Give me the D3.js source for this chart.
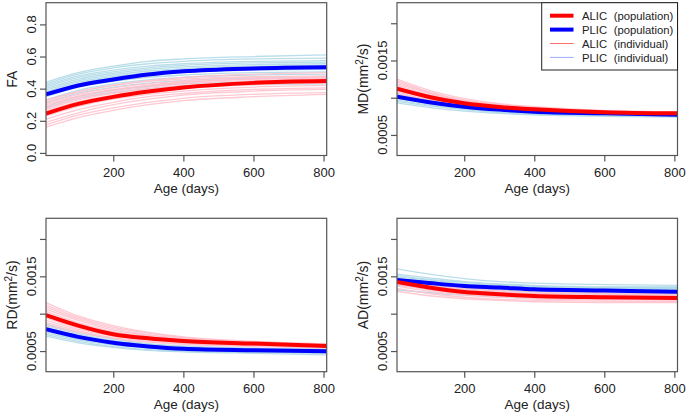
<!DOCTYPE html>
<html>
<head>
<meta charset="utf-8">
<script src="https://cdn.jsdelivr.net/npm/d3@7"></script>
<style>
  body { margin: 0; background: #fff; }
  text { font-family: "Liberation Sans", Arial, Helvetica, sans-serif; fill: #222; }
</style>
</head>
<body>
<svg id="chart" width="690" height="413"></svg>
<script>
var ages = [8, 100, 200, 300, 400, 600, 809];

// FA
var faAlicPop = [0.245, 0.305, 0.349, 0.382, 0.407, 0.436, 0.447];
var faPlicPop = [0.364, 0.420, 0.457, 0.488, 0.508, 0.526, 0.533];
var faAlicInd = [
  [0.33, 0.38, 0.42, 0.445, 0.46, 0.475, 0.48],
  [0.32, 0.38, 0.42, 0.45, 0.47, 0.49, 0.50],
  [0.31, 0.365, 0.405, 0.43, 0.45, 0.47, 0.475],
  [0.30, 0.355, 0.395, 0.42, 0.44, 0.46, 0.465],
  [0.29, 0.35, 0.39, 0.42, 0.44, 0.46, 0.47],
  [0.28, 0.34, 0.38, 0.41, 0.43, 0.45, 0.46],
  [0.27, 0.33, 0.37, 0.40, 0.42, 0.44, 0.45],
  [0.26, 0.32, 0.36, 0.39, 0.41, 0.43, 0.44],
  [0.25, 0.31, 0.35, 0.38, 0.40, 0.425, 0.435],
  [0.23, 0.29, 0.335, 0.365, 0.385, 0.41, 0.42],
  [0.21, 0.27, 0.315, 0.35, 0.37, 0.395, 0.405],
  [0.19, 0.25, 0.30, 0.335, 0.36, 0.385, 0.395],
  [0.175, 0.235, 0.28, 0.315, 0.34, 0.365, 0.375],
  [0.16, 0.22, 0.265, 0.30, 0.325, 0.35, 0.365]
];
var faPlicInd = [
  [0.44, 0.50, 0.54, 0.57, 0.585, 0.60, 0.61],
  [0.43, 0.49, 0.53, 0.555, 0.57, 0.585, 0.59],
  [0.42, 0.48, 0.515, 0.54, 0.555, 0.57, 0.575],
  [0.41, 0.47, 0.505, 0.53, 0.545, 0.56, 0.565],
  [0.40, 0.46, 0.495, 0.52, 0.535, 0.55, 0.555],
  [0.39, 0.45, 0.485, 0.51, 0.525, 0.54, 0.545],
  [0.38, 0.44, 0.475, 0.50, 0.515, 0.53, 0.535],
  [0.36, 0.43, 0.47, 0.495, 0.51, 0.525, 0.53],
  [0.37, 0.425, 0.46, 0.485, 0.50, 0.515, 0.52],
  [0.35, 0.41, 0.445, 0.47, 0.485, 0.50, 0.505],
  [0.33, 0.39, 0.43, 0.455, 0.47, 0.485, 0.49],
  [0.31, 0.37, 0.41, 0.435, 0.45, 0.465, 0.47],
  [0.29, 0.35, 0.39, 0.415, 0.43, 0.44, 0.445],
  [0.28, 0.34, 0.375, 0.40, 0.415, 0.425, 0.43]
];

// MD
var mdAlicPop = [0.00112, 0.00101, 0.000925, 0.000875, 0.000845, 0.000805, 0.00079];
var mdPlicPop = [0.001014, 0.00094, 0.00088, 0.00084, 0.000812, 0.00079, 0.00077];
var mdAlicInd = [
  [0.00125, 0.00110, 0.00099, 0.00092, 0.00088, 0.00083, 0.00081],
  [0.00123, 0.00108, 0.00097, 0.00091, 0.00087, 0.00082, 0.00080],
  [0.00121, 0.00107, 0.00096, 0.00090, 0.00086, 0.00082, 0.00080],
  [0.00119, 0.00106, 0.00095, 0.00089, 0.00086, 0.00081, 0.00079],
  [0.00117, 0.00104, 0.00094, 0.00088, 0.00085, 0.00081, 0.00079],
  [0.00115, 0.00103, 0.00093, 0.00088, 0.00085, 0.00081, 0.00079],
  [0.00113, 0.00101, 0.00092, 0.00087, 0.00084, 0.00080, 0.00078],
  [0.00110, 0.00099, 0.00091, 0.00086, 0.00083, 0.00080, 0.00078],
  [0.00108, 0.00097, 0.00090, 0.00085, 0.00082, 0.00079, 0.00077],
  [0.00106, 0.00096, 0.00089, 0.00085, 0.00082, 0.00079, 0.00077]
];
var mdPlicInd = [
  [0.00105, 0.00097, 0.00090, 0.00086, 0.00083, 0.00080, 0.00079],
  [0.00104, 0.00096, 0.00090, 0.00085, 0.00083, 0.00080, 0.00078],
  [0.00103, 0.00095, 0.00089, 0.00085, 0.00082, 0.00079, 0.00078],
  [0.00102, 0.00094, 0.00088, 0.00084, 0.00081, 0.00079, 0.00077],
  [0.00100, 0.00093, 0.00087, 0.00083, 0.00081, 0.00078, 0.00077],
  [0.00099, 0.00092, 0.00086, 0.00082, 0.00080, 0.00078, 0.00076],
  [0.00097, 0.00090, 0.00085, 0.00081, 0.00079, 0.00077, 0.00075],
  [0.00095, 0.00089, 0.00084, 0.00080, 0.00078, 0.00076, 0.00075],
  [0.00093, 0.00087, 0.00082, 0.00079, 0.00077, 0.00075, 0.00074]
];

// RD
var rdAlicPop = [0.00098, 0.00084, 0.000725, 0.00067, 0.000635, 0.0006, 0.000567];
var rdPlicPop = [0.000792, 0.00069, 0.000612, 0.000562, 0.00053, 0.00051, 0.000496];
var rdAlicInd = [
  [0.00115, 0.00097, 0.00084, 0.00075, 0.00069, 0.00063, 0.00060],
  [0.00112, 0.00095, 0.00082, 0.00074, 0.00068, 0.00062, 0.00059],
  [0.00109, 0.00093, 0.00080, 0.00072, 0.00067, 0.00061, 0.00059],
  [0.00106, 0.00091, 0.00078, 0.00071, 0.00066, 0.00061, 0.00058],
  [0.00103, 0.00088, 0.00076, 0.00070, 0.00065, 0.00060, 0.00058],
  [0.00100, 0.00086, 0.00075, 0.00069, 0.00064, 0.00060, 0.00057],
  [0.00097, 0.00084, 0.00073, 0.00067, 0.00063, 0.00059, 0.00057],
  [0.00094, 0.00081, 0.00071, 0.00066, 0.00062, 0.00058, 0.00056],
  [0.00091, 0.00079, 0.00070, 0.00065, 0.00061, 0.00058, 0.00056],
  [0.00088, 0.00077, 0.00068, 0.00063, 0.00060, 0.00057, 0.00055],
  [0.00085, 0.00075, 0.00067, 0.00062, 0.00059, 0.00056, 0.00054]
];
var rdPlicInd = [
  [0.00086, 0.00075, 0.00066, 0.00060, 0.00057, 0.00054, 0.00053],
  [0.00084, 0.00073, 0.00064, 0.00059, 0.00056, 0.00053, 0.00052],
  [0.00082, 0.00071, 0.00063, 0.00058, 0.00055, 0.00052, 0.00051],
  [0.00080, 0.00070, 0.00062, 0.00057, 0.00054, 0.00052, 0.00050],
  [0.00078, 0.00068, 0.00060, 0.00056, 0.00053, 0.00051, 0.00050],
  [0.00076, 0.00066, 0.00059, 0.00055, 0.00052, 0.00050, 0.00049],
  [0.00074, 0.00065, 0.00058, 0.00054, 0.00051, 0.00049, 0.00048],
  [0.00072, 0.00063, 0.00056, 0.00052, 0.00050, 0.00048, 0.00047],
  [0.00070, 0.00061, 0.00055, 0.00051, 0.00049, 0.00047, 0.00045]
];

// AD
var adAlicPop = [0.001424, 0.00135, 0.00129, 0.00126, 0.001236, 0.00122, 0.00121];
var adPlicPop = [0.00145, 0.00141, 0.00137, 0.00135, 0.001326, 0.00131, 0.001295];
var adAlicInd = [
  [0.00146, 0.00139, 0.00134, 0.00131, 0.00129, 0.00128, 0.00127],
  [0.00145, 0.00138, 0.00132, 0.00129, 0.00127, 0.00126, 0.00125],
  [0.00144, 0.00137, 0.00131, 0.00128, 0.00126, 0.00124, 0.00124],
  [0.00143, 0.00135, 0.00130, 0.00127, 0.00125, 0.00123, 0.00122],
  [0.00141, 0.00134, 0.00128, 0.00125, 0.00123, 0.00122, 0.00121],
  [0.00139, 0.00132, 0.00127, 0.00124, 0.00122, 0.00120, 0.00120],
  [0.00137, 0.00130, 0.00125, 0.00122, 0.00120, 0.00119, 0.00118],
  [0.00134, 0.00127, 0.00122, 0.00119, 0.00118, 0.00117, 0.00116],
  [0.00130, 0.00124, 0.00120, 0.00118, 0.00116, 0.00115, 0.00115]
];
var adPlicInd = [
  [0.00160, 0.00153, 0.00147, 0.00143, 0.00141, 0.00139, 0.00138],
  [0.00153, 0.00148, 0.00143, 0.00140, 0.00138, 0.00136, 0.00136],
  [0.00151, 0.00146, 0.00142, 0.00139, 0.00137, 0.00135, 0.00135],
  [0.00149, 0.00145, 0.00140, 0.00138, 0.00136, 0.00134, 0.00134],
  [0.00147, 0.00143, 0.00139, 0.00136, 0.00135, 0.00133, 0.00133],
  [0.00145, 0.00141, 0.00137, 0.00135, 0.00133, 0.00132, 0.00131],
  [0.00143, 0.00139, 0.00135, 0.00133, 0.00131, 0.00130, 0.00130],
  [0.00141, 0.00137, 0.00133, 0.00131, 0.00130, 0.00128, 0.00128],
  [0.00138, 0.00134, 0.00130, 0.00128, 0.00127, 0.00126, 0.00126],
  [0.00132, 0.00128, 0.00125, 0.00123, 0.00122, 0.00122, 0.00122]
];

// axis ticks
var xTicks = [200, 400, 600, 800];
var faTicks = [0, 0.2, 0.4, 0.6, 0.8];
var diffTicks = [0.0005, 0.001, 0.0015, 0.002];
var diffLabels = [0.0005, 0.0015];

var legendNames = ["ALIC", "PLIC", "ALIC", "PLIC"];
var legendKinds = ["(population)", "(population)", "(individual)", "(individual)"];

var svg = d3.select("#chart");

var panels = [
  { title: "FA", alicPop: faAlicPop, plicPop: faPlicPop, alicInd: faAlicInd, plicInd: faPlicInd,
    yDomain: [-0.016, 0.935], ticks: faTicks, labels: faTicks, fmt: d3.format(".1f"),
    x0: 46, x1: 326.7, y0: 2.7, y1: 155.5 },
  { title: "MD", alicPop: mdAlicPop, plicPop: mdPlicPop, alicInd: mdAlicInd, plicInd: mdPlicInd,
    yDomain: [0.000224, 0.002276], ticks: diffTicks, labels: diffLabels, fmt: d3.format(".4f"),
    x0: 397, x1: 677.5, y0: 2.7, y1: 155.5, unit: true },
  { title: "RD", alicPop: rdAlicPop, plicPop: rdPlicPop, alicInd: rdAlicInd, plicInd: rdPlicInd,
    yDomain: [0.000224, 0.002276], ticks: diffTicks, labels: diffLabels, fmt: d3.format(".4f"),
    x0: 46, x1: 326.7, y0: 218.3, y1: 371.7, unit: true },
  { title: "AD", alicPop: adAlicPop, plicPop: adPlicPop, alicInd: adAlicInd, plicInd: adPlicInd,
    yDomain: [0.000224, 0.002276], ticks: diffTicks, labels: diffLabels, fmt: d3.format(".4f"),
    x0: 397, x1: 677.5, y0: 218.3, y1: 371.7, unit: true }
];

panels.forEach(function(p, i) {
  var x = d3.scaleLinear().domain([8, 809]).range([p.x0, p.x1]);
  var y = d3.scaleLinear().domain(p.yDomain).range([p.y1, p.y0]);
  var g = svg.append("g");

  g.append("clipPath").attr("id", "clip" + i)
    .append("rect")
    .attr("x", p.x0).attr("y", p.y0)
    .attr("width", p.x1 - p.x0).attr("height", p.y1 - p.y0);

  var line = d3.line()
    .x(function(d, k) { return x(ages[k]); })
    .y(function(d) { return y(d); })
    .curve(d3.curveMonotoneX);

  var plot = g.append("g").attr("clip-path", "url(#clip" + i + ")");

  // individual curves
  plot.selectAll(".plicInd").data(p.plicInd).enter().append("path")
    .attr("d", line).attr("fill", "none")
    .attr("stroke", "#ADD8E6").attr("stroke-width", 1.3).attr("opacity", 0.85);
  plot.selectAll(".alicInd").data(p.alicInd).enter().append("path")
    .attr("d", line).attr("fill", "none")
    .attr("stroke", "#FFC0CB").attr("stroke-width", 1.3).attr("opacity", 0.85);

  // population curves
  plot.append("path").datum(p.plicPop).attr("d", line).attr("fill", "none")
    .attr("stroke", "#0000FF").attr("stroke-width", 4);
  plot.append("path").datum(p.alicPop).attr("d", line).attr("fill", "none")
    .attr("stroke", "#FF0000").attr("stroke-width", 4);

  // box
  g.append("rect")
    .attr("x", p.x0).attr("y", p.y0)
    .attr("width", p.x1 - p.x0).attr("height", p.y1 - p.y0)
    .attr("fill", "none").attr("stroke", "#555").attr("stroke-width", 1.2);

  // x axis
  var xa = g.append("g").attr("transform", "translate(0," + p.y1 + ")")
    .call(d3.axisBottom(x).tickValues(xTicks).tickSize(6).tickPadding(6));
  xa.select(".domain").remove();
  xa.selectAll("line").attr("stroke", "#555").attr("stroke-width", 1.2);
  xa.selectAll("text").attr("font-size", 13).attr("fill", "#222")
    .style("font-family", "'Liberation Sans', Arial, sans-serif");

  g.append("text")
    .attr("x", (p.x0 + p.x1) / 2).attr("y", p.y1 + 37)
    .attr("text-anchor", "middle").attr("font-size", 13.5)
    .text("Age (days)");

  // y axis ticks
  var ya = g.append("g").attr("transform", "translate(" + p.x0 + ",0)")
    .call(d3.axisLeft(y).tickValues(p.ticks).tickSize(6).tickFormat(""));
  ya.select(".domain").remove();
  ya.selectAll("line").attr("stroke", "#555").attr("stroke-width", 1.2);

  g.selectAll(".ylab").data(p.labels).enter().append("text")
    .attr("transform", function(d) { return "translate(" + (p.x0 - 10) + "," + y(d) + ") rotate(-90)"; })
    .attr("text-anchor", "middle").attr("font-size", 13)
    .text(p.fmt);

  var yt = g.append("text")
    .attr("transform", "translate(" + (p.x0 - 29) + "," + ((p.y0 + p.y1) / 2) + ") rotate(-90)")
    .attr("text-anchor", "middle").attr("font-size", 14);
  yt.append("tspan").text(p.title);
  if (p.unit) {
    yt.append("tspan").text("(mm");
    yt.append("tspan").attr("font-size", 10).attr("dy", -5).text("2");
    yt.append("tspan").attr("dy", 5).text("/s)");
  }
});

// legend (top-right panel)
var leg = svg.append("g");
leg.append("rect")
  .attr("x", 541.7).attr("y", 2.7).attr("width", 677.5 - 541.7).attr("height", 67.3)
  .attr("fill", "#fff").attr("stroke", "#222").attr("stroke-width", 1);
var legColors = ["#FF0000", "#0000FF", "rgba(255,60,60,0.75)", "rgba(90,110,255,0.6)"];
var legWidths = [4, 4, 1, 1];
legendNames.forEach(function(name, k) {
  var ly = 15.7 + k * 13.9;
  leg.append("line").attr("x1", 550).attr("x2", 573.5).attr("y1", ly).attr("y2", ly)
    .attr("stroke", legColors[k]).attr("stroke-width", legWidths[k]);
  leg.append("text").attr("x", 582).attr("y", ly + 4.2).attr("font-size", 11.3).text(name);
  leg.append("text").attr("x", 613.7).attr("y", ly + 4.2).attr("font-size", 11.3).text(legendKinds[k]);
});
</script>
</body>
</html>
